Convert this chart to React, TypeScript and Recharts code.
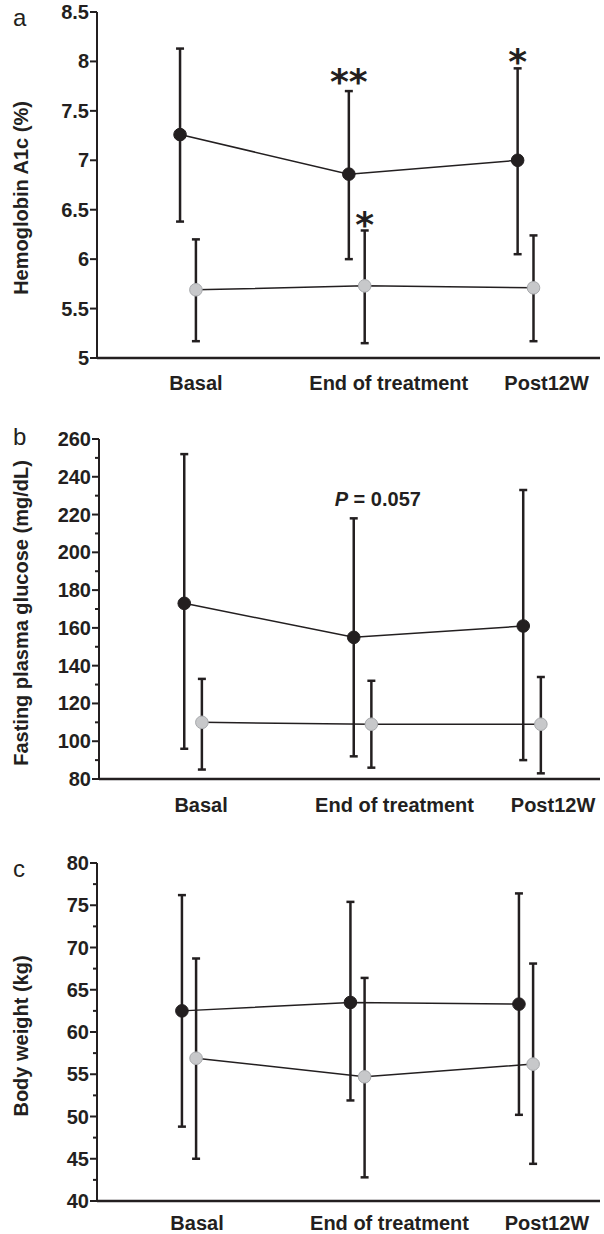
import React from 'react';
import { ScatterChart, Scatter, XAxis, YAxis, ErrorBar, ReferenceDot } from 'recharts';

const INK = '#231f20';
const GREY_FILL = '#c7c8ca';
const GREY_EDGE = '#a7a9ac';
const FONT = '"Liberation Sans", Arial, sans-serif';

const categories = ['Basal', 'End of treatment', 'Post12W'];

// a: Hemoglobin A1c (%)
const hba1cBlack = [7.26, 6.86, 7.0];
const hba1cBlackHi = [8.13, 7.7, 7.93];
const hba1cBlackLo = [6.38, 6.0, 6.05];
const hba1cGrey = [5.69, 5.73, 5.71];
const hba1cGreyHi = [6.2, 6.29, 6.24];
const hba1cGreyLo = [5.17, 5.15, 5.17];
const hba1cTicks = [5, 5.5, 6, 6.5, 7, 7.5, 8, 8.5];

// b: Fasting plasma glucose (mg/dL)
const fpgBlack = [173, 155, 161];
const fpgBlackHi = [252, 218, 233];
const fpgBlackLo = [96, 92, 90];
const fpgGrey = [110, 109, 109];
const fpgGreyHi = [133, 132, 134];
const fpgGreyLo = [85, 86, 83];
const fpgTicks = [80, 90, 100, 110, 120, 130, 140, 150, 160, 170, 180, 190, 200, 210, 220, 230, 240, 250, 260];
const fpgMajor = [80, 100, 120, 140, 160, 180, 200, 220, 240, 260];

// c: Body weight (kg)
const bwBlack = [62.5, 63.5, 63.3];
const bwBlackHi = [76.2, 75.4, 76.4];
const bwBlackLo = [48.8, 51.9, 50.2];
const bwGrey = [56.9, 54.7, 56.2];
const bwGreyHi = [68.7, 66.4, 68.1];
const bwGreyLo = [45.0, 42.8, 44.4];
const bwTicks = [40, 42.5, 45, 47.5, 50, 52.5, 55, 57.5, 60, 62.5, 65, 67.5, 70, 72.5, 75, 77.5, 80];
const bwMajor = [40, 45, 50, 55, 60, 65, 70, 75, 80];

// significance marks: [category, which series, y value, text]
const hba1cMarks: [number, 'black' | 'grey', number, string][] = [
  [1, 'black', 7.86, '**'],
  [1, 'grey', 6.42, '*'],
  [2, 'black', 8.07, '*'],
];

const build = (vals: number[], hi: number[], lo: number[], dx: number) =>
  vals.map((v, i) => ({ x: i + dx, y: v, err: [v - lo[i], hi[i] - v] }));

const LABEL_SHIFT = [8, 32, 21];

function XTick(props: any) {
  const { x, y, payload, drop } = props;
  return (
    <text x={x + LABEL_SHIFT[payload.value]} y={y + drop} textAnchor="middle"
      fontFamily={FONT} fontWeight="bold" fontSize={20} fill={INK}>
      {categories[payload.value]}
    </text>
  );
}

function YTick(props: any) {
  const { x, y, payload, major } = props;
  const isMajor = major.includes(payload.value);
  return (
    <g>
      <line x1={x - (isMajor ? 7 : 4)} x2={x} y1={y} y2={y} stroke={INK} strokeWidth={2} />
      {isMajor && (
        <text x={x - 8} y={y + 7} textAnchor="end" fontFamily={FONT} fontWeight="bold" fontSize={20} fill={INK}>
          {payload.value}
        </text>
      )}
    </g>
  );
}

const blackDot = (p: any) => <circle cx={p.cx} cy={p.cy} r={6.3} fill={INK} stroke={INK} strokeWidth={1} />;
const greyDot = (p: any) => <circle cx={p.cx} cy={p.cy} r={6.3} fill={GREY_FILL} stroke={GREY_EDGE} strokeWidth={1} />;

interface PanelProps {
  top: number;
  height: number;
  marginTop: number;
  xHeight: number;
  labelDrop: number;
  yWidth: number;
  xDomain: [number, number];
  yDomain: [number, number];
  yTicks: number[];
  major: number[];
  black: any[];
  grey: any[];
  title: string;
  titleDy: number;
  letter: string;
  letterY: number;
  children?: React.ReactNode;
}

function Panel(p: PanelProps) {
  const titleLabel = (lp: any) => {
    const vb = lp.viewBox;
    const cy = vb.y + vb.height / 2 + p.titleDy;
    return (
      <g>
        <text x={13} y={p.letterY - p.top} fontFamily={FONT} fontSize={24} fill={INK}>{p.letter}</text>
        <text x={21} y={cy} transform={`rotate(-90, 21, ${cy})`} textAnchor="middle" dominantBaseline="central"
          fontFamily={FONT} fontWeight="bold" fontSize={20} fill={INK}>{p.title}</text>
      </g>
    );
  };
  return (
    <div style={{ position: 'absolute', left: 0, top: p.top }}>
      <ScatterChart width={604} height={p.height} margin={{ top: p.marginTop, right: 4, bottom: 0, left: 0 }}>
        <XAxis type="number" dataKey="x" domain={p.xDomain} ticks={[0, 1, 2]} interval={0}
          height={p.xHeight} tickSize={0} tickMargin={0} tickLine={false}
          axisLine={{ stroke: INK, strokeWidth: 2.5 }} tick={(tp: any) => <XTick {...tp} drop={p.labelDrop} />} />
        <YAxis type="number" dataKey="y" domain={p.yDomain} ticks={p.yTicks} interval={0}
          width={p.yWidth} tickSize={0} tickMargin={0} tickLine={false}
          axisLine={{ stroke: INK, strokeWidth: 2 }}
          tick={(tp: any) => <YTick {...tp} major={p.major} />}
          label={{ content: titleLabel }} />
        <Scatter data={p.black} shape={blackDot} line={{ stroke: INK, strokeWidth: 1.5 }} lineType="joint" isAnimationActive={false}>
          <ErrorBar dataKey="err" direction="y" width={4} stroke={INK} strokeWidth={2.5} />
        </Scatter>
        <Scatter data={p.grey} shape={greyDot} line={{ stroke: INK, strokeWidth: 1.5 }} lineType="joint" isAnimationActive={false}>
          <ErrorBar dataKey="err" direction="y" width={4} stroke={INK} strokeWidth={2.5} />
        </Scatter>
        {p.children}
      </ScatterChart>
    </div>
  );
}

const starShape = (text: string) => (sp: any) => (
  <text x={sp.cx} y={sp.cy + 19} textAnchor="middle" fontFamily='"DejaVu Sans", sans-serif'
    fontWeight="bold" fontSize={36} fill={INK}>{text}</text>
);

export default function App() {
  const offA = 0.047;
  const offB = 0.052;
  const offC = 0.042;
  return (
    <div style={{ position: 'absolute', left: 0, top: 0, width: 604, height: 1234, background: '#fff' }}>
      <Panel top={0} height={400} marginTop={12} xHeight={42} labelDrop={32} yWidth={97}
        xDomain={[-0.539, 2.441]} yDomain={[5, 8.5]} yTicks={hba1cTicks} major={hba1cTicks}
        black={build(hba1cBlack, hba1cBlackHi, hba1cBlackLo, -offA)}
        grey={build(hba1cGrey, hba1cGreyHi, hba1cGreyLo, offA)}
        title="Hemoglobin A1c (%)" titleDy={13} letter="a" letterY={26}>
        {hba1cMarks.map(([cat, s, y, t], i) => (
          <ReferenceDot key={i} x={cat + (s === 'black' ? -offA : offA)} y={y} r={0} shape={starShape(t)} />
        ))}
      </Panel>
      <Panel top={420} height={400} marginTop={19} xHeight={41} labelDrop={33} yWidth={99}
        xDomain={[-0.555, 2.401]} yDomain={[80, 260]} yTicks={fpgTicks} major={fpgMajor}
        black={build(fpgBlack, fpgBlackHi, fpgBlackLo, -offB)}
        grey={build(fpgGrey, fpgGreyHi, fpgGreyLo, offB)}
        title="Fasting plasma glucose (mg/dL)" titleDy={4} letter="b" letterY={445}>
        <ReferenceDot x={1.09} y={228} r={0} shape={(sp: any) => (
          <text x={sp.cx} y={sp.cy + 7} textAnchor="middle" fontFamily={FONT} fontWeight="bold" fontSize={20} fill={INK}>
            <tspan fontStyle="italic">P</tspan> = 0.057
          </text>
        )} />
      </Panel>
      <Panel top={840} height={394} marginTop={23} xHeight={33} labelDrop={29} yWidth={97}
        xDomain={[-0.546, 2.439]} yDomain={[40, 80]} yTicks={bwTicks} major={bwMajor}
        black={build(bwBlack, bwBlackHi, bwBlackLo, -offC)}
        grey={build(bwGrey, bwGreyHi, bwGreyLo, offC)}
        title="Body weight (kg)" titleDy={4} letter="c" letterY={877} />
    </div>
  );
}
